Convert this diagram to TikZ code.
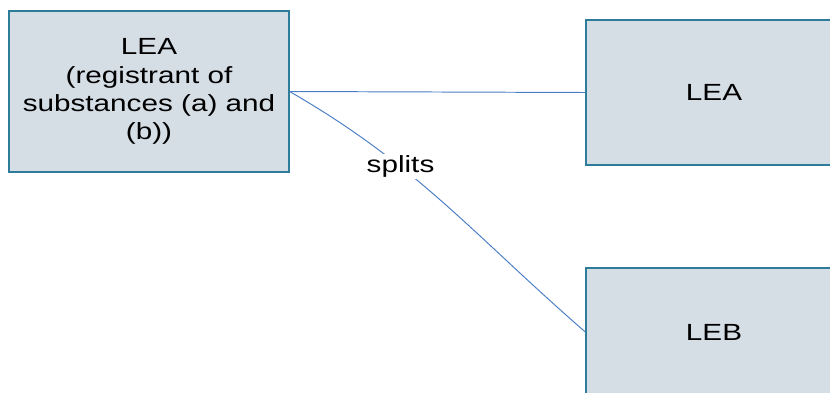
\documentclass[tikz,border=0pt]{standalone}
\usepackage{fontspec}
\setmainfont[FakeStretch=1.27]{Liberation Sans}
\usepackage{tikz}

\definecolor{boxfill}{HTML}{D5DDE5}
\definecolor{boxdraw}{HTML}{2E7C99}
\definecolor{linkblue}{HTML}{4A7EC4}

\begin{document}
\begin{tikzpicture}[
font=\fontsize{13.3}{16}\selectfont,
entitynode/.style={rectangle, draw=boxdraw, fill=boxfill, line width=0.75pt, align=center, inner sep=0pt},
link/.style={draw=linkblue, line width=0.55pt}
]
\clip (0,0) rectangle (16.6,7.84);
%Nodes
\node[entitynode, minimum width=5.6cm, minimum height=3.22cm] at (2.98,6.01) (LEA) {LEA\\(registrant of\\substances (a) and\\(b))};
\node[entitynode, minimum width=5.12cm, minimum height=2.9cm] at (14.28,5.99) (LEA-1) {LEA};
\node[entitynode, minimum width=5.12cm, minimum height=2.56cm] at (14.28,1.2) (LEB) {LEB};

%Lines
\draw[link] (LEA.east) -- (LEA-1.west);
\draw[link] (LEA.east) to[out=-30, in=139] node[pos=0.34, fill=white, inner sep=1pt] (SPLITS) {splits} (LEB.west);
\end{tikzpicture}
\end{document}
